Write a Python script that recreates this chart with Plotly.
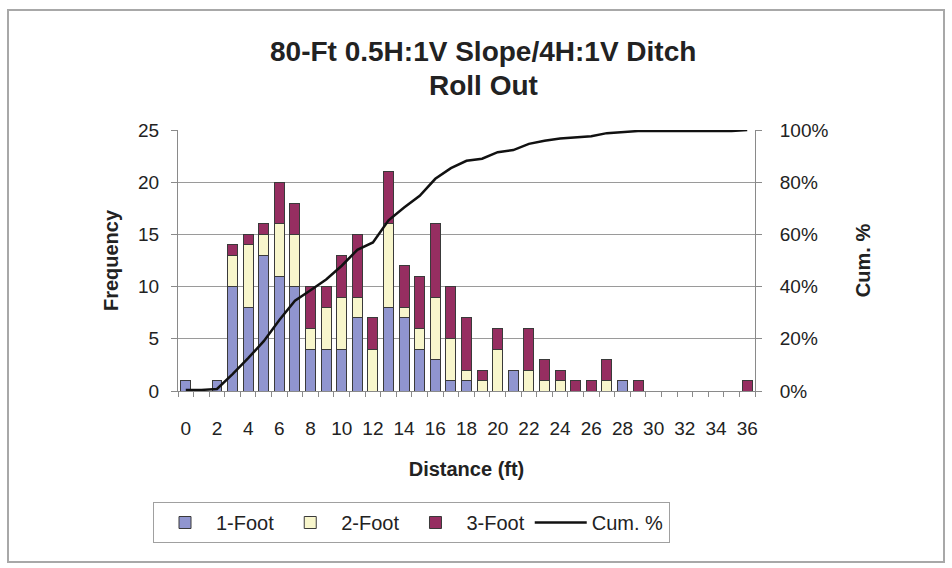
import plotly.graph_objects as go

# ---- data ----
distance = list(range(37))  # ft, categories 0..36
foot1 = [1, 0, 1, 10, 8, 13, 11, 10, 4, 4, 4, 7, 0, 8, 7, 4, 3, 1, 1, 0, 0, 2, 0, 0, 0, 0, 0, 0, 1, 0, 0, 0, 0, 0, 0, 0, 0]
foot2 = [0, 0, 0, 3, 6, 2, 5, 5, 2, 4, 5, 2, 4, 8, 1, 2, 6, 4, 1, 1, 4, 0, 2, 1, 1, 0, 0, 1, 0, 0, 0, 0, 0, 0, 0, 0, 0]
foot3 = [0, 0, 0, 1, 1, 1, 4, 3, 4, 2, 4, 6, 3, 5, 4, 5, 7, 5, 5, 1, 2, 0, 4, 2, 1, 1, 1, 2, 0, 1, 0, 0, 0, 0, 0, 0, 1]
cum_pct = [0.4, 0.4, 0.8, 6.5, 12.6, 19.1, 27.2, 34.6, 38.6, 42.7, 48.0, 54.1, 56.9, 65.4, 70.3, 74.8,
           81.3, 85.4, 88.2, 89.0, 91.5, 92.3, 94.7, 95.9, 96.7, 97.2, 97.6, 98.8, 99.2, 99.6,
           99.6, 99.6, 99.6, 99.6, 99.6, 99.6, 100.0]
x_ticks = list(range(0, 37, 2))
y_ticks = [0, 5, 10, 15, 20, 25]
y2_ticks = [0, 20, 40, 60, 80, 100]
y2_labels = ["0%", "20%", "40%", "60%", "80%", "100%"]

FONT = "Liberation Sans, Arial, sans-serif"
C1, C2, C3 = "#9095CF", "#F8F6CC", "#962E61"

fig = go.Figure()
for name, vals, col in [("1-Foot", foot1, C1), ("2-Foot", foot2, C2), ("3-Foot", foot3, C3)]:
    fig.add_trace(go.Bar(x=distance, y=vals, name=name, marker_color=col,
                         marker_line_color="#3a3a3a", marker_line_width=1))
fig.add_trace(go.Scatter(x=distance, y=cum_pct, name="Cum. %", mode="lines",
                         line=dict(color="#111111", width=2.5), yaxis="y2"))

L, R, T, B = 178, 755, 130, 391
W, H = 952, 568
pw, ph = R - L, B - T

def px(xp):
    return (xp - L) / pw

def py(yp):
    return (B - yp) / ph

fig.update_layout(
    width=W, height=H,
    margin=dict(l=L, r=W - R, t=T, b=H - B, autoexpand=False),
    paper_bgcolor="white", plot_bgcolor="white",
    barmode="stack", bargap=0.36,
    font=dict(family=FONT, size=19, color="#222222"),
    showlegend=True,
    legend=dict(orientation="h", x=px(153), y=py(502), xanchor="left", yanchor="top",
                bordercolor="#a0a0a0", borderwidth=1, font=dict(size=20, family=FONT),
                traceorder="normal", itemwidth=52, tracegroupgap=0),
    xaxis=dict(range=[-0.5, 36.5], tickvals=x_ticks, ticktext=[str(v) for v in x_ticks],
               showgrid=False, zeroline=False, showline=True, linecolor="#8a8a8a", linewidth=1,
               ticks="", ticklabelstandoff=20, tickfont=dict(size=19),
               minor=dict(tickvals=[i - 0.5 for i in range(38)], ticks="outside", ticklen=5,
                          tickcolor="#8a8a8a", showgrid=False),
               title=dict(text="<b>Distance (ft)</b>", font=dict(size=20), standoff=24),
               automargin=False),
    yaxis=dict(range=[0, 25], tickvals=y_ticks, showgrid=True, gridcolor="#9a9a9a", gridwidth=1,
               zeroline=False, showline=True, linecolor="#8a8a8a", linewidth=1,
               ticks="outside", ticklen=6, tickcolor="#8a8a8a", ticklabelstandoff=8,
               tickfont=dict(size=19),
               title=dict(text="<b>Frequency</b>", font=dict(size=20), standoff=14),
               automargin=False),
    yaxis2=dict(range=[0, 100], tickvals=y2_ticks, ticktext=y2_labels, overlaying="y", side="right",
                showgrid=False, zeroline=False, showline=True, linecolor="#8a8a8a", linewidth=1,
                ticks="outside", ticklen=6, tickcolor="#8a8a8a", ticklabelstandoff=14,
                tickfont=dict(size=19),
                title=dict(text="<b>Cum. %</b>", font=dict(size=20), standoff=28),
                automargin=False),
    annotations=[
        dict(text="<b>80-Ft 0.5H:1V Slope/4H:1V Ditch</b>", xref="paper", yref="paper",
             x=px(483), y=py(51), xanchor="center", yanchor="middle", showarrow=False,
             font=dict(size=28, family=FONT, color="#222222")),
        dict(text="<b>Roll Out</b>", xref="paper", yref="paper",
             x=px(483), y=py(86), xanchor="center", yanchor="middle", showarrow=False,
             font=dict(size=28, family=FONT, color="#222222")),
    ],
    shapes=[dict(type="rect", xref="paper", yref="paper", x0=px(8), x1=px(944),
                 y0=py(562), y1=py(10), line=dict(color="#a8a8a8", width=2), layer="below")],
)

fig.write_html("out.html", config={"displayModeBar": False},
               post_script="document.body.style.margin='0';document.body.style.overflow='hidden';")
